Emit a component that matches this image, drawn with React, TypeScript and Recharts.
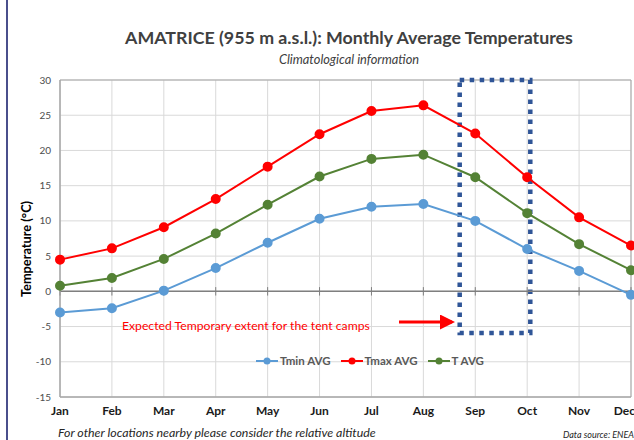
import React from 'react';
import { LineChart, Line, XAxis, YAxis, CartesianGrid, ReferenceLine, ReferenceArea, Legend } from 'recharts';

const months = ['Jan', 'Feb', 'Mar', 'Apr', 'May', 'Jun', 'Jul', 'Aug', 'Sep', 'Oct', 'Nov', 'Dec'];
const tMin = [-3.0, -2.4, 0.1, 3.3, 6.9, 10.3, 12.0, 12.4, 10.0, 6.0, 2.9, -0.5];
const tMax = [4.5, 6.1, 9.1, 13.1, 17.7, 22.3, 25.6, 26.4, 22.4, 16.2, 10.5, 6.5];
const tAvg = [0.8, 1.9, 4.6, 8.2, 12.3, 16.3, 18.8, 19.4, 16.2, 11.1, 6.7, 3.0];
const yTicks = [-15, -10, -5, 0, 5, 10, 15, 20, 25, 30];

const series = [
  { key: 'tmin', name: 'Tmin AVG', color: '#5B9BD5' },
  { key: 'tmax', name: 'Tmax AVG', color: '#FF0000' },
  { key: 'tavg', name: 'T AVG', color: '#548235' },
];

const data = months.map((m, i) => ({ idx: i, month: m, tmin: tMin[i], tmax: tMax[i], tavg: tAvg[i] }));

const FONT = 'Lato, "Open Sans", sans-serif';

// legend drawn by hand so it looks like the Excel one (line + marker)
const ExcelLegend = () => (
  <div style={{ display: 'flex', gap: 10, fontFamily: FONT, fontSize: 11.5, fontWeight: 700, color: '#595959' }}>
    {series.map(s => (
      <div key={s.key} style={{ display: 'flex', alignItems: 'center' }}>
        <svg width={22} height={10} style={{ marginRight: 2 }}>
          <line x1={0} y1={5} x2={22} y2={5} stroke={s.color} strokeWidth={2} />
          <circle cx={11} cy={5} r={3.5} fill={s.color} />
        </svg>
        <span>{s.name}</span>
      </div>
    ))}
  </div>
);

export default function App() {
  return (
    <div style={{ position: 'absolute', left: 0, top: 0, width: 634, height: 440, background: '#fff', overflow: 'hidden' }}>
      <LineChart width={634} height={440} data={data} margin={{ top: 80, right: 3, bottom: 0, left: 0 }}>
        <CartesianGrid stroke="#d9d9d9" />
        <XAxis
          type="number"
          dataKey="idx"
          domain={[0, 11]}
          ticks={months.map((_, i) => i)}
          tickFormatter={(v: number) => months[v]}
          height={43}
          tickSize={0}
          tickMargin={9}
          axisLine={{ stroke: '#a6a6a6' }}
          tick={{ fontFamily: FONT, fontSize: 12, fontWeight: 700, fill: '#1a1a1a' }}
        />
        <YAxis
          domain={[-15, 30]}
          ticks={yTicks}
          width={60}
          tickSize={0}
          tickMargin={9}
          axisLine={{ stroke: '#a6a6a6' }}
          tick={{ fontFamily: FONT, fontSize: 10, fill: '#4d4d4d' }}
        />
        <ReferenceArea x1={0} x2={11} y1={-15} y2={30} fill="none" stroke="#a6a6a6" strokeWidth={1} />
        <ReferenceLine y={0} stroke="#7f7f7f" strokeWidth={1.5} />
        {months.map((m, i) => (
          <ReferenceLine key={m} segment={[{ x: i, y: 0.6 }, { x: i, y: -0.6 }]} stroke="#7f7f7f" strokeWidth={1} />
        ))}
        <Legend
          layout="horizontal"
          verticalAlign="middle"
          align="center"
          content={<ExcelLegend />}
          wrapperStyle={{ position: 'absolute', top: 354, left: 256, width: 280 }}
        />
        {series.map(s => (
          <Line
            key={s.key}
            dataKey={s.key}
            name={s.name}
            stroke={s.color}
            strokeWidth={2}
            dot={{ r: 4, fill: s.color, stroke: s.color }}
            isAnimationActive={false}
          />
        ))}
        <ReferenceArea
          x1={7.7}
          x2={9.06}
          y1={-5.9}
          y2={30}
          fill="none"
          stroke="#2F5597"
          strokeWidth={4.5}
          strokeDasharray="4.5 5.5"
          ifOverflow="visible"
        />
      </LineChart>
      <svg width={634} height={440} style={{ position: 'absolute', left: 0, top: 0, pointerEvents: 'none' }}>
        <defs>
          <marker id="arrowRed" markerWidth="5" markerHeight="5" refX="4" refY="2.5" orient="auto">
            <path d="M0,0 L5,2.5 L0,5 Z" fill="#FF0000" />
          </marker>
        </defs>
        <line x1={7} y1={0} x2={7} y2={440} stroke="#4a4f8c" strokeWidth={2} />
        <text x={349} y={44} textAnchor="middle" fontFamily={FONT} fontSize={17.8} fontWeight={700} fill="#404040">
          AMATRICE (955 m a.s.l.): Monthly Average Temperatures
        </text>
        <text x={349} y={64} textAnchor="middle" fontFamily={FONT} fontSize={12.8} fontStyle="italic" fill="#404040">
          Climatological information
        </text>
        <text transform="translate(31,249) rotate(-90)" textAnchor="middle" fontFamily={FONT} fontSize={12.8} fontWeight={700} fill="#000">
          Temperature (°C)
        </text>
        <text x={122} y={330} fontFamily={FONT} fontSize={12.2} fill="#FF0000">
          Expected Temporary extent for the tent camps
        </text>
        <line x1={399} y1={322} x2={452} y2={322} stroke="#FF0000" strokeWidth={3} markerEnd="url(#arrowRed)" />
        <text x={58} y={437} fontFamily={FONT} fontSize={12.4} fontStyle="italic" fill="#262626">
          For other locations nearby please consider the relative altitude
        </text>
        <text x={634} y={438} textAnchor="end" fontFamily={FONT} fontSize={9} fontStyle="italic" fill="#262626">
          Data source: ENEA
        </text>
      </svg>
    </div>
  );
}
